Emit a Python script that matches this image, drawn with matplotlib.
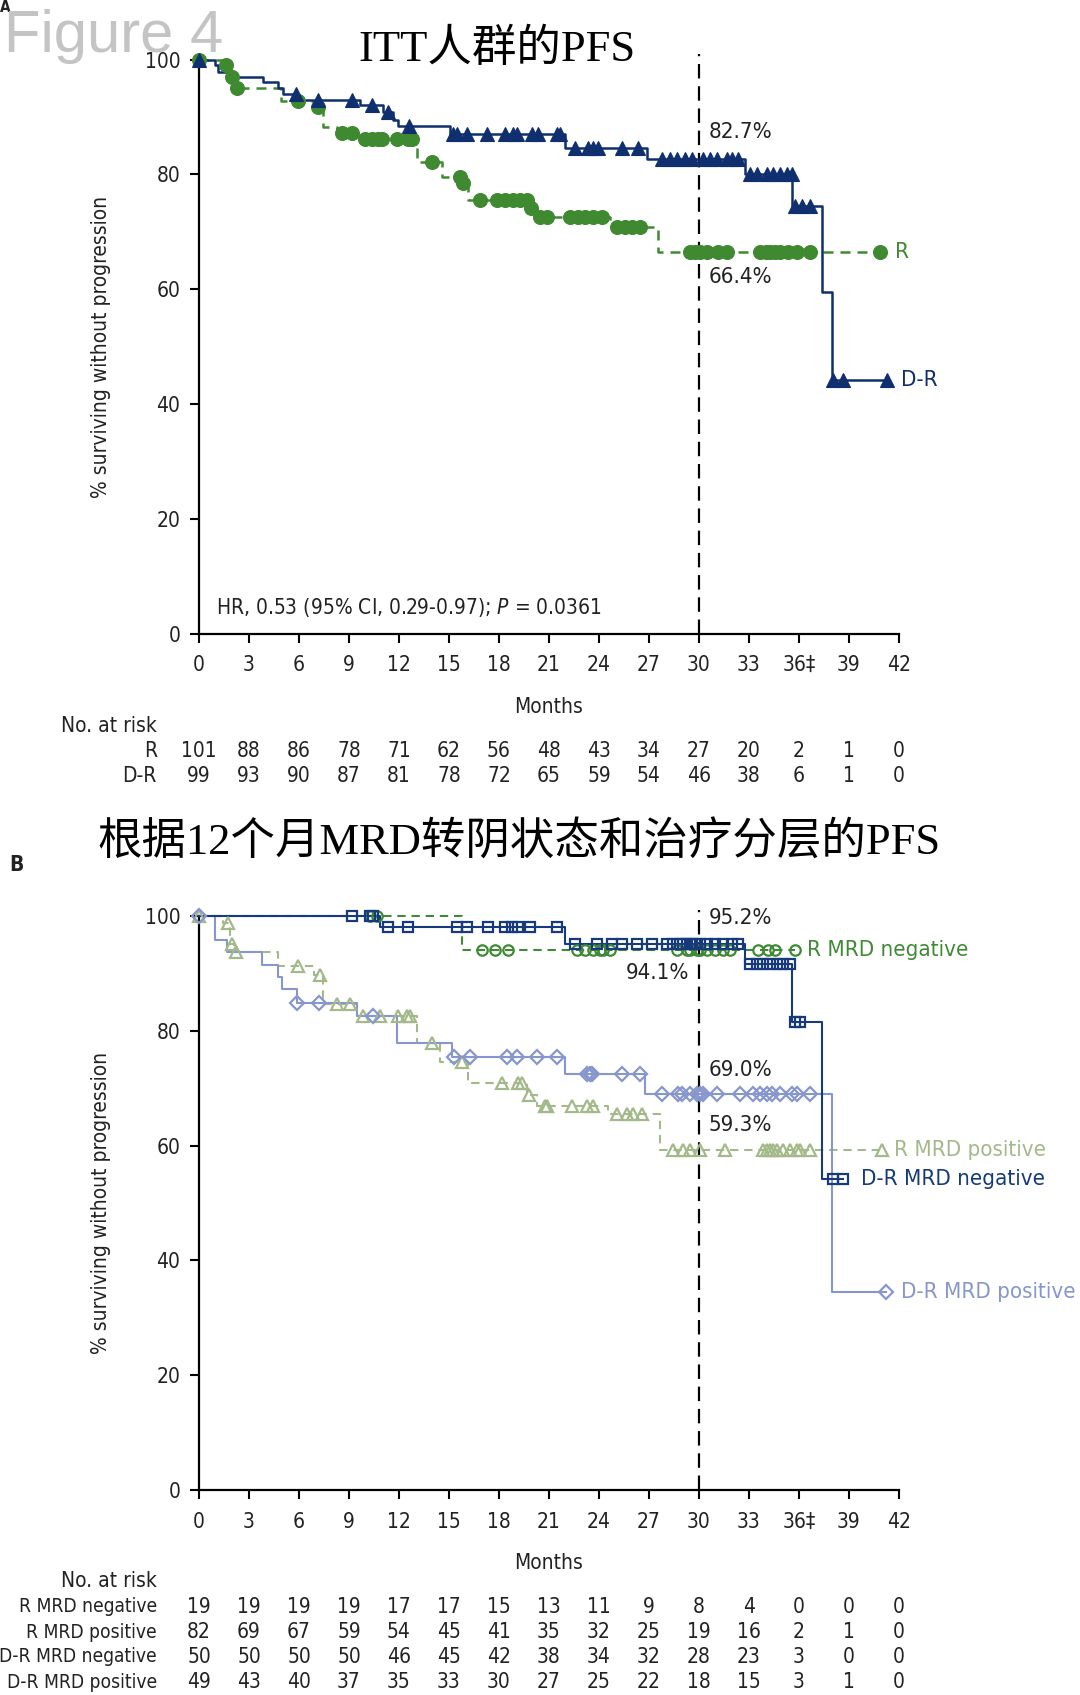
import numpy as np
import matplotlib
matplotlib.use("Agg")
import matplotlib.pyplot as plt

plt.rcParams['font.family'] = ['DejaVu Sans']
plt.rcParams['font.stretch'] = 'condensed'

W, H = 1080, 1695
months = [0, 3, 6, 9, 12, 15, 18, 21, 24, 27, 30, 33, 36, 39, 42]
month_labels = ['0', '3', '6', '9', '12', '15', '18', '21', '24', '27', '30', '33', '36‡', '39', '42']

# Panel A - ITT
dr_t = [0, 0.96, 1.16, 2.06, 3.86, 4.76, 5.06, 5.9, 9.66, 11.05, 11.65, 11.95, 15.06, 21.96, 26.86, 32.76, 35.6, 37.4, 38.0]
dr_s = [100, 99.0, 97.9, 97.0, 96.0, 95.0, 94.0, 93.0, 92.0, 90.9, 89.5, 88.4, 87.0, 84.5, 82.7, 80.0, 74.4, 59.5, 44.2]
dr_end = 41.3
dr_cens = [0, 5.8, 7.16, 9.16, 10.36, 11.36, 12.62, 15.26, 15.5, 16.06, 17.26, 18.36, 18.86, 19.06, 19.96,
           20.36, 21.46, 21.66, 22.56, 23.36, 23.66, 23.96, 25.36, 26.36, 27.76, 28.26, 28.66, 29.16, 29.56,
           30.26, 30.66, 31.06, 31.66, 31.96, 32.36, 33.06, 33.46, 34.06, 34.46, 34.86, 35.26, 35.56, 35.76,
           36.16, 36.66, 38.06, 38.66, 41.3]

r_t = [0, 1.5, 1.9, 2.1, 4.9, 6.9, 7.46, 8.3, 9.46, 13.06, 14.56, 15.75, 16.16, 19.8, 20.16, 24.66, 27.56]
r_s = [100, 99.0, 97.0, 95.0, 92.8, 91.7, 88.2, 87.2, 86.1, 82.2, 79.6, 78.4, 75.5, 74.1, 72.6, 70.8, 66.4]
r_end = 40.86
r_cens = [0, 1.6, 1.95, 2.3, 5.96, 7.16, 8.56, 9.16, 9.96, 10.36, 10.76, 10.96, 11.86, 12.56, 12.76, 14.0,
          15.66, 15.86, 16.86, 17.86, 18.36, 18.86, 19.26, 19.66, 19.9, 20.46, 20.86, 22.26, 22.76, 23.16,
          23.66, 24.16, 25.06, 25.56, 25.96, 26.46, 29.46, 29.76, 30.06, 30.46, 31.16, 31.66, 33.66, 34.0,
          34.26, 34.56, 34.86, 35.36, 35.86, 36.66, 40.86]

risk_a_rows = ['R', 'D-R']
risk_a_r = [101, 88, 86, 78, 71, 62, 56, 48, 43, 34, 27, 20, 2, 1, 0]
risk_a_dr = [99, 93, 90, 87, 81, 78, 72, 65, 59, 54, 46, 38, 6, 1, 0]

# Panel B - by MRD status
rneg_t = [0, 15.76]
rneg_s = [100, 94.1]
rneg_end = 35.76
rneg_cens = [10.26, 10.66, 16.96, 17.76, 18.56, 22.66, 23.16, 23.66, 24.06, 24.26, 24.66, 28.66, 29.26,
             29.46, 29.86, 30.06, 30.46, 30.96, 31.46, 31.86, 33.56, 34.16, 34.56, 35.76]

rpos_t = [0, 1.46, 1.85, 2.1, 4.76, 6.9, 7.46, 9.46, 13.06, 14.46, 16.16, 19.7, 20.26, 24.56, 27.66]
rpos_s = [100, 98.7, 95.2, 93.8, 91.3, 89.7, 84.7, 82.5, 77.8, 74.6, 70.9, 68.8, 66.9, 65.5, 59.3]
rpos_end = 40.96
rpos_cens = [0, 1.76, 1.95, 2.2, 5.96, 7.26, 8.26, 9.06, 9.86, 10.86, 11.96, 12.46, 12.66, 13.96, 15.76,
             18.16, 19.16, 19.36, 19.8, 20.76, 20.86, 22.36, 23.26, 23.66, 25.06, 25.66, 26.06, 26.56, 28.46,
             29.06, 29.46, 30.06, 31.56, 33.86, 34.06, 34.26, 34.46, 34.66, 35.06, 35.46, 35.86, 36.06, 36.66,
             40.96]

drneg_t = [0, 10.86, 21.96, 32.76, 35.56, 37.36]
drneg_s = [100, 98.0, 95.2, 91.6, 81.6, 54.1]
drneg_end = 38.66
drneg_cens = [9.16, 10.26, 10.46, 11.36, 12.56, 15.46, 16.06, 17.36, 18.36, 18.76, 19.16, 19.86, 21.46,
              22.56, 23.86, 24.76, 25.36, 26.26, 27.16, 28.06, 28.46, 28.86, 29.06, 29.26, 29.56, 29.76,
              30.06, 30.46, 30.96, 31.46, 31.96, 32.36, 33.06, 33.46, 33.86, 34.26, 34.66, 35.06, 35.46,
              35.76, 36.06, 38.06, 38.66]

drpos_t = [0, 0.96, 1.66, 3.76, 4.76, 4.96, 5.86, 9.46, 11.86, 15.2, 21.96, 26.76, 37.96]
drpos_s = [100, 95.8, 93.8, 91.5, 89.4, 87.2, 84.9, 82.6, 77.9, 75.5, 72.4, 69.0, 34.5]
drpos_end = 41.25
drpos_cens = [0, 5.86, 7.22, 10.46, 15.3, 16.26, 18.46, 19.06, 20.26, 21.46, 23.3, 23.46, 23.6, 25.36,
              26.46, 27.76, 28.76, 28.96, 29.46, 29.86, 30.06, 30.26, 31.06, 32.46, 33.26, 33.66, 34.06,
              34.36, 34.86, 35.56, 35.86, 36.66, 41.25]

risk_b_rows = ['R MRD negative', 'R MRD positive', 'D-R MRD negative', 'D-R MRD positive']
risk_b_rneg = [19, 19, 19, 19, 17, 17, 15, 13, 11, 9, 8, 4, 0, 0, 0]
risk_b_rpos = [82, 69, 67, 59, 54, 45, 41, 35, 32, 25, 19, 16, 2, 1, 0]
risk_b_drneg = [50, 50, 50, 50, 46, 45, 42, 38, 34, 32, 28, 23, 3, 0, 0]
risk_b_drpos = [49, 43, 40, 37, 35, 33, 30, 27, 25, 22, 18, 15, 3, 1, 0]

NAVY = '#0f2f6e'
GREEN = '#3f8a30'
NAVY_B = '#163a7c'
LAV = '#8797cd'
GREEN_B = '#3f8a35'
SAGE = '#a4b98a'
TXT = '#222222'
FS = 15


def fy(px):
    return 1 - px / H


def km(ax, t, s, end, cens, color, marker, ms, lw, dashed, filled):
    tt = list(t) + [end]
    ss = list(s) + [s[-1]]
    ln, = ax.step(tt, ss, where='post', color=color, lw=lw, clip_on=False, zorder=3)
    if dashed:
        ln.set_dashes((4, 2.8))
    idx = np.searchsorted(t, cens, side='right') - 1
    cy = np.asarray(s)[idx]
    if filled:
        ax.plot(cens, cy, ls='none', marker=marker, ms=ms, mfc=color, mec=color, mew=0.8,
                clip_on=False, zorder=4)
    else:
        ax.plot(cens, cy, ls='none', marker=marker, ms=ms, mfc='none', mec=color, mew=1.6,
                clip_on=False, zorder=4)


def style_axes(ax):
    ax.set_xlim(0, 42)
    ax.set_ylim(0, 100)
    ax.spines[['top', 'right']].set_visible(False)
    for sp in ['left', 'bottom']:
        ax.spines[sp].set_linewidth(1.6)
    ax.set_xticks(months)
    ax.set_xticklabels(month_labels)
    ax.set_yticks([0, 20, 40, 60, 80, 100])
    ax.tick_params(axis='both', labelsize=FS, width=1.5, length=6.5, colors='black', labelcolor=TXT)
    ax.tick_params(axis='x', pad=9)
    ax.tick_params(axis='y', pad=7)
    ax.set_ylabel('% surviving without progression', fontsize=FS, color=TXT, labelpad=24)
    ln, = ax.plot([30, 30], [0, 101], color='black', lw=1.6, clip_on=False, zorder=2)
    ln.set_dashes((6.5, 3.5))


def risk_table(fig, ax, rows, values, y_head, y_rows, label_fs):
    tr = matplotlib.transforms.blended_transform_factory(ax.transData, fig.transFigure)
    fig.text(157 / W, fy(y_head), 'No. at risk', ha='right', va='center', fontsize=FS, color=TXT)
    for name, vals, yp in zip(rows, values, y_rows):
        fig.text(157 / W, fy(yp), name, ha='right', va='center', fontsize=label_fs, color=TXT)
        for m, v in zip(months, vals):
            ax.text(m, fy(yp), str(v), transform=tr, ha='center', va='center', fontsize=FS,
                    color=TXT, clip_on=False)


fig = plt.figure(figsize=(W / 100, H / 100), dpi=100)
ax_a = fig.add_axes([199 / W, fy(633.5), 700 / W, 574 / H])
ax_b = fig.add_axes([199 / W, fy(1490), 700 / W, 574 / H])

# Panel A
style_axes(ax_a)
km(ax_a, r_t, r_s, r_end, r_cens, GREEN, 'o', 10, 1.8, True, True)
km(ax_a, dr_t, dr_s, dr_end, dr_cens, NAVY, '^', 9.5, 1.8, False, True)
ax_a.text(1.0, 4.5, r'HR, 0.53 (95% CI, 0.29-0.97); $\mathit{P}$ = 0.0361', fontsize=FS, color=TXT,
          va='center')
ax_a.text(30.6, 87.3, '82.7%', fontsize=FS + 1, color=TXT, va='center')
ax_a.text(30.6, 62.1, '66.4%', fontsize=FS + 1, color=TXT, va='center')
ax_a.text(41.75, r_s[-1], 'R', fontsize=FS + 1, color=GREEN, va='center')
ax_a.text(42.1, dr_s[-1], 'D-R', fontsize=FS + 1, color=NAVY, va='center')
fig.text(549 / W, fy(707), 'Months', ha='center', va='center', fontsize=FS, color=TXT)
risk_table(fig, ax_a, risk_a_rows, [risk_a_r, risk_a_dr], 726, [751, 776], FS)

# Panel B
style_axes(ax_b)
km(ax_b, rpos_t, rpos_s, rpos_end, rpos_cens, SAGE, '^', 8, 1.5, True, False)
km(ax_b, rneg_t, rneg_s, rneg_end, rneg_cens, GREEN_B, 'o', 7.5, 1.5, True, False)
km(ax_b, drpos_t, drpos_s, drpos_end, drpos_cens, LAV, 'D', 7, 1.5, False, False)
km(ax_b, drneg_t, drneg_s, drneg_end, drneg_cens, NAVY_B, 's', 7.5, 1.5, False, False)
ax_b.text(30.6, 99.7, '95.2%', fontsize=FS + 1, color=TXT, va='center')
ax_b.text(29.4, 90.1, '94.1%', fontsize=FS + 1, color=TXT, va='center', ha='right')
ax_b.text(30.6, 73.2, '69.0%', fontsize=FS + 1, color=TXT, va='center')
ax_b.text(30.6, 63.6, '59.3%', fontsize=FS + 1, color=TXT, va='center')
ax_b.text(36.5, rneg_s[-1], 'R MRD negative', fontsize=FS + 1, color=GREEN_B, va='center')
ax_b.text(41.7, rpos_s[-1], 'R MRD positive', fontsize=FS + 1, color=SAGE, va='center')
ax_b.text(39.7, drneg_s[-1], 'D-R MRD negative', fontsize=FS + 1, color=NAVY_B, va='center')
ax_b.text(42.1, drpos_s[-1], 'D-R MRD positive', fontsize=FS + 1, color=LAV, va='center')
fig.text(549 / W, fy(1563), 'Months', ha='center', va='center', fontsize=FS, color=TXT)
risk_table(fig, ax_b, risk_b_rows, [risk_b_rneg, risk_b_rpos, risk_b_drneg, risk_b_drpos],
           1581, [1607, 1632, 1657, 1682], 13.8)

# Titles and panel letters
fig.text(0.0, 1.0, 'A', fontsize=11, fontweight='bold', color='#222222', va='top', ha='left')
fig.text(0.004, fy(52), 'Figure 4', fontsize=43, color='#c4c4c4', va='baseline', ha='left',
         family=['Liberation Sans'], stretch='normal')
fig.text(497 / W, fy(49), 'ITT人群的PFS', fontsize=32, color='black', ha='center', va='center',
         family=['Liberation Serif', 'Noto Sans CJK SC'], stretch='normal')
fig.text(519 / W, fy(843), '根据12个月MRD转阴状态和治疗分层的PFS', fontsize=32, color='black',
         ha='center', va='center', family=['Liberation Serif', 'Noto Sans CJK SC'], stretch='normal')
fig.text(9 / W, fy(865), 'B', fontsize=15, fontweight='bold', color='#222222', va='center', ha='left')

fig.savefig('out.png', dpi=100)
